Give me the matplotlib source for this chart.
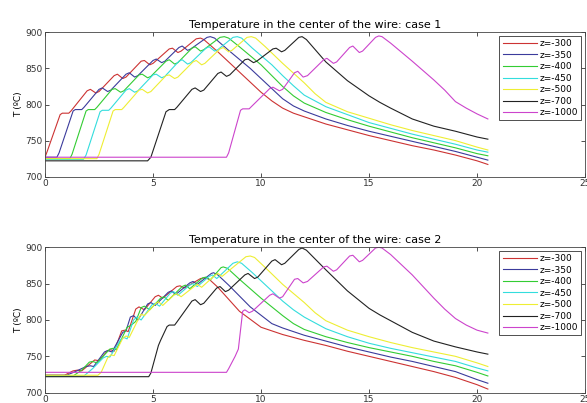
import numpy as np
import matplotlib
matplotlib.use("Agg")
import matplotlib.pyplot as plt

labels = ["z=-300", "z=-350", "z=-400", "z=-450", "z=-500", "z=-700", "z=-1000"]
colors = ["#cc3333", "#3b3b9c", "#33cc33", "#33dddd", "#eeee33", "#222222", "#cc44cc"]

# ---- case 1: (time, temperature) pairs ----
c1_red = [(0, 727), (0.1, 735), (0.7, 786), (0.8, 788), (1.1, 788), (1.2, 791), (1.95, 819), (2.1, 821),
          (2.35, 816), (2.5, 818), (3.2, 840), (3.35, 842), (3.6, 836), (3.75, 838), (4.45, 860), (4.6, 861),
          (4.85, 855), (5.0, 857), (5.75, 877), (5.9, 878), (6.15, 872), (6.3, 874), (7.0, 891), (7.2, 892),
          (7.35, 890), (8.0, 873), (9.0, 845), (10.0, 817), (10.5, 805), (11.0, 795), (11.5, 788), (12, 783),
          (13, 773), (14, 765), (15, 757), (16, 750), (17, 743), (18, 737), (19, 730), (20, 722), (20.5, 717)]
c1_blue = [(0, 727), (0.55, 727), (0.65, 733), (1.3, 791), (1.4, 793), (1.7, 793), (1.8, 796), (2.5, 821),
           (2.65, 823), (2.9, 818), (3.05, 820), (3.75, 842), (3.9, 844), (4.15, 838), (4.3, 840), (5.0, 861),
           (5.15, 863), (5.4, 858), (5.55, 860), (6.2, 879), (6.35, 881), (6.6, 875), (6.75, 877), (7.5, 893),
           (7.65, 894), (7.85, 892), (8.5, 875), (9.5, 850), (10.5, 822), (11, 808), (11.5, 798), (12, 791),
           (13, 780), (14, 771), (15, 763), (16, 756), (17, 749), (18, 742), (19, 735), (20, 727), (20.5, 723)]
c1_green = [(0, 725), (1.15, 725), (1.25, 731), (1.9, 791), (2.0, 793), (2.3, 793), (2.4, 796), (3.1, 821),
            (3.25, 822), (3.5, 817), (3.65, 819), (4.35, 841), (4.5, 842), (4.75, 837), (4.9, 839), (5.6, 860),
            (5.75, 862), (6.0, 856), (6.15, 858), (6.8, 878), (6.95, 880), (7.2, 874), (7.35, 876), (8.1, 893),
            (8.3, 894), (8.5, 892), (9.0, 880), (10, 855), (11, 825), (11.5, 812), (12, 802), (13, 789),
            (14, 779), (15, 770), (16, 762), (17, 754), (18, 747), (19, 740), (20, 732), (20.5, 729)]
c1_cyan = [(0, 724), (1.78, 724), (1.9, 730), (2.55, 790), (2.65, 792), (2.95, 792), (3.05, 795), (3.75, 820),
           (3.9, 822), (4.15, 817), (4.3, 819), (5.0, 841), (5.15, 842), (5.4, 837), (5.55, 839), (6.2, 860),
           (6.35, 862), (6.6, 856), (6.75, 858), (7.45, 878), (7.6, 880), (7.85, 874), (8.0, 876), (8.7, 893),
           (8.9, 894), (9.1, 892), (9.6, 878), (10.5, 855), (11, 840), (11.5, 826), (12, 813), (13, 797),
           (14, 786), (15, 775), (16, 767), (17, 759), (18, 752), (19, 745), (20, 737), (20.5, 734)]
c1_yellow = [(0, 725), (2.4, 725), (2.5, 731), (3.15, 791), (3.25, 793), (3.55, 793), (3.65, 796), (4.35, 820),
             (4.5, 821), (4.75, 816), (4.9, 818), (5.6, 840), (5.75, 841), (6.0, 836), (6.15, 838), (6.85, 859),
             (7.0, 861), (7.25, 855), (7.4, 857), (8.1, 877), (8.25, 879), (8.5, 873), (8.65, 875), (9.35, 893),
             (9.55, 894), (9.75, 892), (10.2, 880), (11, 857), (12, 830), (12.5, 815), (13, 803), (14, 790),
             (15, 781), (16, 772), (17, 764), (18, 757), (19, 750), (20, 741), (20.5, 737)]
c1_black = [(0, 722), (4.75, 722), (4.9, 727), (5.6, 790), (5.75, 793), (6.0, 793), (6.1, 796), (6.8, 821),
            (6.95, 823), (7.2, 818), (7.35, 820), (8.0, 843), (8.15, 845), (8.4, 839), (8.55, 841), (9.25, 862),
            (9.4, 863), (9.65, 858), (9.8, 860), (10.55, 877), (10.7, 878), (10.95, 873), (11.1, 875),
            (11.75, 893), (11.9, 894), (12.1, 890), (13, 859), (14, 833), (15, 812), (15.5, 803), (16, 795),
            (17, 780), (18, 770), (19, 763), (20, 755), (20.5, 752)]
c1_magenta = [(0, 727), (8.4, 727), (8.5, 733), (9.05, 792), (9.15, 794), (9.45, 794), (9.55, 797), (10.4, 822),
              (10.55, 824), (10.85, 819), (11.0, 821), (11.55, 844), (11.7, 846), (11.95, 838), (12.15, 840),
              (12.9, 862), (13.05, 864), (13.35, 857), (13.5, 859), (14.1, 879), (14.25, 881), (14.55, 872),
              (14.7, 874), (15.3, 893), (15.45, 895), (15.6, 894), (16, 885), (17, 860), (18, 834), (18.5, 820),
              (19, 804), (19.5, 795), (20, 787), (20.5, 780)]

# ---- case 2 ----
c2_red = [(0, 724), (0.9, 724), (1.3, 730), (1.5, 731), (1.7, 730), (2.3, 745), (2.5, 744), (2.9, 758),
          (3.05, 759), (3.2, 757), (3.55, 785), (3.7, 786), (3.85, 784), (4.2, 815), (4.35, 818), (4.6, 814),
          (5.1, 832), (5.25, 834), (5.45, 830), (6.1, 846), (6.25, 847), (6.45, 844), (7.2, 857), (7.4, 858),
          (7.6, 856), (8, 845), (9, 812), (10, 790), (11, 780), (12, 772), (13, 765), (14, 757), (15, 750),
          (16, 743), (17, 736), (18, 729), (19, 721), (20, 711), (20.5, 705)]
c2_blue = [(0, 724), (1.0, 724), (1.4, 729), (1.9, 736), (2.1, 737), (2.25, 736), (2.75, 756), (2.9, 758),
           (3.1, 756), (3.6, 783), (3.75, 785), (3.95, 804), (4.1, 806), (4.3, 800), (4.75, 822), (4.9, 824),
           (5.1, 820), (5.7, 838), (5.85, 840), (6.05, 835), (6.7, 851), (6.85, 853), (7.05, 849), (7.7, 864),
           (7.8, 865), (8.0, 862), (8.5, 848), (9.5, 818), (10.5, 795), (11, 789), (12, 779), (13, 771),
           (14, 763), (15, 756), (16, 749), (17, 743), (18, 736), (19, 729), (20, 718), (20.5, 713)]
c2_green = [(0, 723), (1.3, 723), (1.7, 731), (2.05, 742), (2.2, 743), (2.4, 741), (3.0, 760), (3.15, 761),
            (3.3, 759), (3.8, 790), (3.95, 792), (4.2, 798), (4.45, 817), (4.6, 819), (4.85, 814), (5.35, 830),
            (5.5, 832), (5.7, 827), (6.35, 846), (6.5, 848), (6.7, 843), (7.3, 858), (7.45, 859), (7.65, 855),
            (8.15, 872), (8.25, 873), (8.45, 871), (9, 856), (10, 830), (11, 806), (11.5, 795), (12, 787),
            (13, 777), (14, 769), (15, 762), (16, 756), (17, 750), (18, 743), (19, 737), (20, 728), (20.5, 723)]
c2_cyan = [(0, 723), (1.8, 723), (2.2, 733), (2.7, 748), (2.85, 750), (3.0, 749), (3.5, 773), (3.65, 776),
           (3.8, 774), (4.1, 800), (4.25, 804), (4.45, 800), (4.95, 821), (5.1, 823), (5.3, 819), (5.8, 837),
           (5.95, 839), (6.15, 834), (6.7, 848), (6.85, 850), (7.05, 846), (7.6, 860), (7.75, 862), (7.95, 857),
           (8.7, 878), (8.9, 880), (9.1, 878), (9.6, 865), (10.5, 840), (11, 826), (11.5, 814), (12, 804),
           (13, 788), (14, 777), (15, 768), (16, 761), (17, 755), (18, 749), (19, 743), (20, 734), (20.5, 730)]
c2_yellow = [(0, 724), (2.45, 724), (2.6, 728), (2.9, 748), (3.05, 752), (3.2, 751), (3.6, 775), (3.75, 778),
             (3.9, 776), (4.3, 800), (4.45, 808), (4.6, 806), (5.1, 822), (5.25, 825), (5.45, 820), (5.95, 834),
             (6.1, 836), (6.3, 832), (6.9, 846), (7.05, 849), (7.25, 845), (7.85, 861), (8.0, 864), (8.2, 860),
             (8.6, 870), (9.3, 887), (9.5, 888), (9.7, 886), (10.2, 872), (11, 849), (12, 824), (12.5, 810),
             (13, 799), (14, 786), (15, 777), (16, 769), (17, 762), (18, 756), (19, 750), (20, 741), (20.5, 736)]
c2_black = [(0, 722), (4.8, 722), (4.9, 727), (5.25, 765), (5.35, 772), (5.65, 791), (5.75, 793), (6.0, 793),
            (6.1, 797), (6.8, 826), (6.95, 828), (7.2, 821), (7.35, 823), (7.95, 844), (8.1, 846), (8.35, 839),
            (8.5, 841), (9.25, 862), (9.4, 864), (9.7, 857), (9.85, 859), (10.5, 881), (10.65, 883),
            (10.95, 876), (11.1, 878), (11.75, 897), (11.9, 899), (12.1, 896), (13, 869), (14, 840), (15, 816),
            (15.5, 807), (16, 799), (17, 783), (18, 771), (19, 763), (20, 756), (20.5, 753)]
c2_magenta = [(0, 728), (8.4, 728), (8.5, 733), (8.8, 750), (8.95, 760), (9.15, 812), (9.25, 814), (9.45, 810),
              (9.6, 812), (10.4, 834), (10.55, 836), (10.85, 830), (11.0, 832), (11.55, 856), (11.7, 857),
              (11.95, 851), (12.15, 853), (12.9, 873), (13.05, 874), (13.35, 867), (13.5, 869), (14.1, 888),
              (14.25, 889), (14.55, 880), (14.7, 882), (15.3, 899), (15.45, 900), (15.6, 899), (16, 890),
              (17, 862), (18, 830), (18.5, 815), (19, 802), (19.5, 793), (20, 786), (20.5, 782)]

case1 = [c1_red, c1_blue, c1_green, c1_cyan, c1_yellow, c1_black, c1_magenta]
case2 = [c2_red, c2_blue, c2_green, c2_cyan, c2_yellow, c2_black, c2_magenta]
titles = ["Temperature in the center of the wire: case 1",
          "Temperature in the center of the wire: case 2"]

fig = plt.figure(figsize=(5.87, 4.03), dpi=100)
ax1 = fig.add_axes([0.0767, 0.5615, 0.920, 0.3583])
ax2 = fig.add_axes([0.0767, 0.0256, 0.920, 0.3608])

for ax, series, title in zip([ax1, ax2], [case1, case2], titles):
    for pts, col, lab in zip(series, colors, labels):
        arr = np.array(pts, dtype=float)
        ax.plot(arr[:, 0], arr[:, 1], color=col, linewidth=0.8, label=lab)
    ax.set_xlim(0, 25)
    ax.set_ylim(700, 900)
    ax.set_xticks([0, 5, 10, 15, 20, 25])
    ax.set_yticks([700, 750, 800, 850, 900])
    ax.tick_params(direction="in", top=True, right=True, length=3, width=0.6,
                   labelsize=6.5, colors="#333333", pad=1.5)
    for sp in ax.spines.values():
        sp.set_linewidth(0.6)
        sp.set_color("#444444")
    ax.set_title(title, fontsize=8, pad=3)
    ax.set_ylabel("T (ºC)", fontsize=6.5, labelpad=2)
    leg = ax.legend(loc="upper right", bbox_to_anchor=(0.993, 0.975), borderaxespad=0,
                    fontsize=6.5, fancybox=False, framealpha=1, edgecolor="#333333",
                    handlelength=3.8, handletextpad=0.3, labelspacing=0.28,
                    borderpad=0.35)
    leg.get_frame().set_linewidth(0.6)

fig.savefig("out.png", dpi=100)
